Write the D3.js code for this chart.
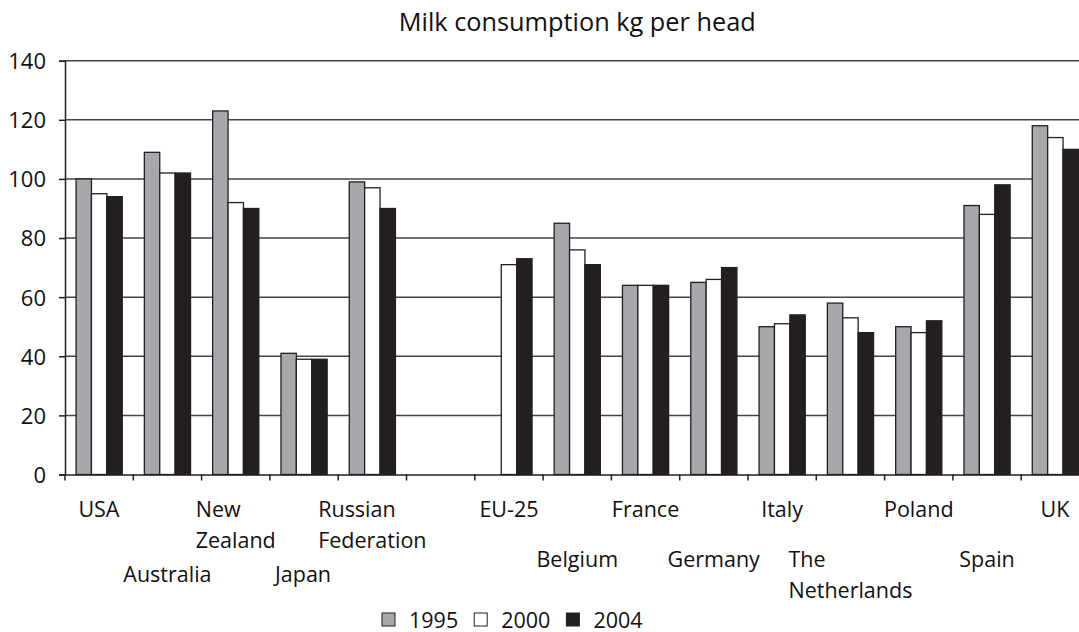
<!DOCTYPE html>
<html><head><meta charset="utf-8">
<script src="https://cdn.jsdelivr.net/npm/d3@7"></script>
<style>body{margin:0;background:#fff}svg{display:block}text{font-family:"Open Sans",sans-serif;fill:#111;font-variant-ligatures:none}</style>
</head><body><svg id="c" width="1079" height="632"></svg>
<script>
const categories = ["USA","Australia","New Zealand","Japan","Russian Federation","","EU-25","Belgium","France","Germany","Italy","The Netherlands","Poland","Spain","UK"];
const categoryLines = [["USA"],["Australia"],["New","Zealand"],["Japan"],["Russian","Federation"],[""],["EU-25"],["Belgium"],["France"],["Germany"],["Italy"],["The","Netherlands"],["Poland"],["Spain"],["UK"]];
const years = ["1995","2000","2004"];
const v1995 = [100,109,123,41,99,null,null,85,64,65,50,58,50,91,118];
const v2000 = [95,102,92,39,97,null,71,76,64,66,51,53,48,88,114];
const v2004 = [94,102,90,39,90,null,73,71,64,70,54,48,52,98,110];
const yTicks = [0,20,40,60,80,100,120,140];
const title = "Milk consumption kg per head";

const series = [v1995, v2000, v2004];
const colors = ["#a7a8ab","#ffffff","#231f20"];
const svg = d3.select("#c");
const mLeft = 65, mTop = 60.7, mBottom = 474.5, step = 68.3;
const x = d3.scaleBand().domain(d3.range(categories.length)).range([mLeft, mLeft + step*categories.length]).padding(0);
const y = d3.scaleLinear().domain([0,140]).range([mBottom, mTop]);
const xs = d3.scaleBand().domain(years).range([x.bandwidth()*0.162, x.bandwidth()*0.838]);

// gridlines
svg.append("g").selectAll("line").data(yTicks.filter(d=>d>0)).join("line")
  .attr("x1", mLeft).attr("x2", mLeft + step*categories.length)
  .attr("y1", d=>y(d)).attr("y2", d=>y(d))
  .attr("stroke", "#444").attr("stroke-width", 1.5);

// bars
const g = svg.append("g");
categories.forEach((c, i) => {
  years.forEach((yr, k) => {
    const v = series[k][i];
    if (v == null) return;
    g.append("rect")
      .attr("x", x(i) + xs(yr)).attr("width", xs.bandwidth())
      .attr("y", y(v)).attr("height", y(0) - y(v))
      .attr("fill", colors[k]).attr("stroke", "#231f20").attr("stroke-width", 1.3);
  });
});

// y axis
const ya = svg.append("g").attr("transform", `translate(${mLeft},0)`)
  .call(d3.axisLeft(y).tickValues(yTicks).tickSize(6).tickPadding(13));
ya.select(".domain").attr("stroke", "#231f20").attr("stroke-width", 1.5);
ya.selectAll(".tick line").attr("stroke", "#231f20").attr("stroke-width", 1.5);
ya.selectAll(".tick text").attr("font-size", 22).attr("fill", "#111").attr("font-family", "Open Sans").attr("dy", "0.36em");

// x axis
const xa = svg.append("g").attr("transform", `translate(0,${mBottom})`)
  .call(d3.axisBottom(x).tickValues([]).tickSizeOuter(0));
xa.select(".domain").attr("stroke", "#231f20").attr("stroke-width", 1.5);
svg.append("g").selectAll("line").data(d3.range(categories.length + 1)).join("line")
  .attr("x1", i => mLeft + i*step).attr("x2", i => mLeft + i*step)
  .attr("y1", mBottom).attr("y2", mBottom + 6)
  .attr("stroke", "#231f20").attr("stroke-width", 1.5);

// x labels (staggered, multi-line blocks left-aligned and centred on band)
const lab = svg.append("g").attr("font-size", 21.5);
categoryLines.forEach((lines, i) => {
  if (!lines[0]) return;
  let base = mBottom + 42.5;
  if (i % 2 === 1) {
    const nl = Math.max((categoryLines[i-1]||[""]).length, (categoryLines[i+1]||[""]).length);
    base += nl > 1 ? 65 : 50;
  }
  const t = lab.append("text").attr("y", base);
  lines.forEach((ln, j) => t.append("tspan").attr("x", 0).attr("y", base + j*31).text(ln));
  const w = t.node().getBBox().width;
  const cx = x(i) + x.bandwidth()/2;
  t.selectAll("tspan").attr("x", cx - w/2);
});

// title
svg.append("text").attr("x", mLeft + step*categories.length/2).attr("y", 31).attr("text-anchor", "middle").attr("font-size", 25.3).text(title);

// legend
const lg = svg.append("g").attr("transform", "translate(382,613)");
let lx = 0;
years.forEach((yr, k) => {
  lg.append("rect").attr("x", lx).attr("y", 0).attr("width", 13).attr("height", 13)
    .attr("fill", colors[k]).attr("stroke", "#231f20").attr("stroke-width", 1);
  const t = lg.append("text").attr("x", lx + 27).attr("y", 14.5).attr("font-size", 21.5).text(yr);
  lx += 27 + t.node().getComputedTextLength() + 16;
});
</script></body></html>
